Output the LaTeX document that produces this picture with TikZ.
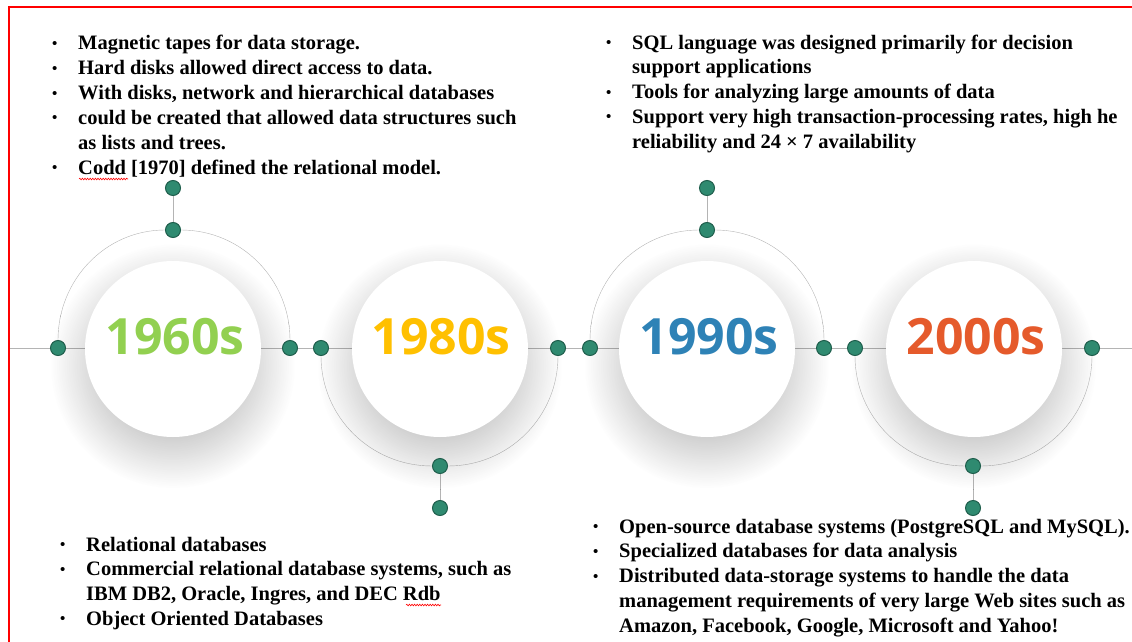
\documentclass[tikz,border=0pt]{standalone}
\usepackage{fontspec}
\setmainfont{Liberation Serif}
\newfontfamily\yearfont{Open Sans}
\usepackage{tikz}
\usetikzlibrary{backgrounds,shadows.blur,decorations.pathmorphing}

\definecolor{hubgreen}{HTML}{2F8A70}
\definecolor{hubedge}{HTML}{1F5E4C}
\definecolor{linegray}{HTML}{B4B4B4}
\definecolor{yr60}{HTML}{92D050}
\definecolor{yr80}{HTML}{FFC000}
\definecolor{yr90}{HTML}{2E82B6}
\definecolor{yr00}{HTML}{E55A2B}
\newcommand{\bul}{\raisebox{1.6pt}{\fontsize{15}{15}\selectfont\textbullet}}

\tikzset{
  hubdot/.style={circle,fill=hubgreen,draw=hubedge,line width=1pt,minimum size=15pt,inner sep=0pt},
  era/.style={circle,fill=white,minimum size=176pt,inner sep=0pt,
    blur shadow={shadow xshift=0pt,shadow yshift=-16pt,shadow scale=1.08,shadow blur radius=26pt,
      shadow blur steps=40,shadow opacity=20}},
  yearlabel/.style={anchor=base,font=\yearfont\bfseries\fontsize{50}{50}\selectfont},
  notes/.style={anchor=base west,inner sep=0pt,font=\fontsize{20.5}{24.8}\selectfont\bfseries},
  spell/.style={red,line width=0.6pt,decorate,decoration={snake,amplitude=0.8pt,segment length=2.6pt}}
}

\begin{document}
\begin{tikzpicture}[x=1pt,y=-1pt]
    \useasboundingbox (0,0) rectangle (1132,642);
    \draw [red,line width=1.5pt] (9,642) -- (9,7) -- (1132,7);

    \node [era] (c60) at (173,349) {};
    \node [era] (c80) at (440,349) {};
    \node [era] (c90) at (707,349) {};
    \node [era] (c00) at (974,349) {};
    \node [yearlabel,text=yr60] (y60) at (175,354) {1960s};
    \node [yearlabel,text=yr80] (y80) at (441,354) {1980s};
    \node [yearlabel,text=yr90] (y90) at (709,354) {1990s};
    \node [yearlabel,text=yr00] (y00) at (976,354) {2000s};

    \node [hubdot] (l60) at (58,348) {};
    \node [hubdot] (r60) at (290,348) {};
    \node [hubdot] (t60) at (173,230) {};
    \node [hubdot] (s60) at (173,188) {};
    \node [hubdot] (l80) at (321,348) {};
    \node [hubdot] (r80) at (558,348) {};
    \node [hubdot] (b80) at (440,466) {};
    \node [hubdot] (s80) at (440,508) {};
    \node [hubdot] (l90) at (590,348) {};
    \node [hubdot] (r90) at (824,348) {};
    \node [hubdot] (t90) at (707,230) {};
    \node [hubdot] (s90) at (707,188) {};
    \node [hubdot] (l00) at (855,348) {};
    \node [hubdot] (r00) at (1092,348) {};
    \node [hubdot] (b00) at (973,466) {};
    \node [hubdot] (s00) at (973,508) {};
    \coordinate (west) at (9,348);
    \coordinate (east) at (1132,348);

    \begin{pgfonlayer}{background}
    \draw [linegray] (west) -- (east);
    \draw [linegray] (l60) to[out=90,in=180] (t60) to[out=0,in=90] (r60);
    \draw [linegray] (l80) to[out=-90,in=180] (b80) to[out=0,in=-90] (r80);
    \draw [linegray] (l90) to[out=90,in=180] (t90) to[out=0,in=90] (r90);
    \draw [linegray] (l00) to[out=-90,in=180] (b00) to[out=0,in=-90] (r00);
    \draw [linegray] (t60) -- (s60);
    \draw [linegray] (b80) -- (s80);
    \draw [linegray] (t90) -- (s90);
    \draw [linegray] (b00) -- (s00);
    \end{pgfonlayer}

    \node [notes] (n60) at (52,50) {\begin{tabular}[t]{@{}p{26pt}@{}l@{}}
    \bul & Magnetic tapes for data storage.\\
    \bul & Hard disks allowed direct access to data.\\
    \bul & With disks, network and hierarchical databases\\
    \bul & could be created that allowed data structures such\\
         & as lists and trees.\\
    \bul & Codd [1970] defined the relational model.
    \end{tabular}};
    \node [notes] (n90) at (606,49) {\begin{tabular}[t]{@{}p{26pt}@{}l@{}}
    \bul & SQL language was designed primarily for decision\\
         & support applications\\
    \bul & Tools for analyzing large amounts of data\\
    \bul & Support very high transaction-processing rates, high he\\
         & reliability and 24 × 7 availability
    \end{tabular}};
    \node [notes] (n80) at (60,551) {\begin{tabular}[t]{@{}p{26pt}@{}l@{}}
    \bul & Relational databases\\
    \bul & Commercial relational database systems, such as\\
         & IBM DB2, Oracle, Ingres, and DEC Rdb\\
    \bul & Object Oriented Databases
    \end{tabular}};
    \node [notes] (n00) at (593,533) {\begin{tabular}[t]{@{}p{26pt}@{}l@{}}
    \bul & Open-source database systems (PostgreSQL and MySQL).\\
    \bul & Specialized databases for data analysis\\
    \bul & Distributed data-storage systems to handle the data\\
         & management requirements of very large Web sites such as\\
         & Amazon, Facebook, Google, Microsoft and Yahoo!
    \end{tabular}};

    \draw [spell] (79,179) -- (128,179);
    \draw [spell] (406,605) -- (441,605);
\end{tikzpicture}
\end{document}
